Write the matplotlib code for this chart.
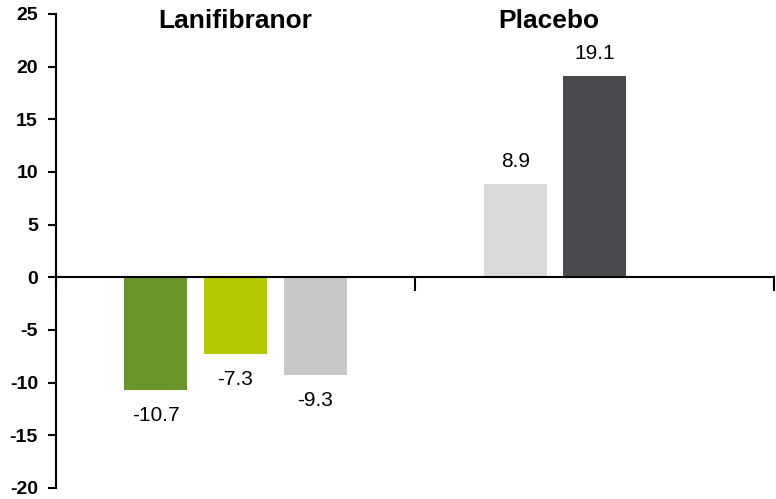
import matplotlib.pyplot as plt

plt.rcParams['font.family'] = ['Liberation Sans', 'DejaVu Sans']

# data
groups = ['Lanifibranor', 'Placebo']
lani_values = [-10.7, -7.3, -9.3]
placebo_values = [8.9, 19.1]
lani_colors = ['#6a952a', '#b3c800', '#c8c8c8']
placebo_colors = ['#dadada', '#4a494e']
yticks = [-20, -15, -10, -5, 0, 5, 10, 15, 20, 25]

fig = plt.figure(figsize=(7.76, 4.99), dpi=100)
ax = fig.add_axes([56 / 776, 11 / 499, 718 / 776, 474 / 499])

# bar positions inside each group (group 0 spans 0..1, group 1 spans 1..2)
lani_x = [0.277, 0.5, 0.723]
placebo_x = [1.28, 1.50]
width = 0.175

ax.bar(lani_x, lani_values, width=width, color=lani_colors)
ax.bar(placebo_x, placebo_values, width=width, color=placebo_colors)

for x, v in zip(lani_x + placebo_x, lani_values + placebo_values):
    off = -18 if v < 0 else 16
    ax.annotate(f'{v}', (x, v), xytext=(0, off), textcoords='offset points',
                ha='center', va='center', fontsize=15)

# group titles
ax.text(0.5, 24.3, groups[0], ha='center', va='center', fontsize=19, fontweight='bold')
ax.text(1.372, 24.3, groups[1], ha='center', va='center', fontsize=19, fontweight='bold')

ax.set_xlim(0, 2)
ax.set_ylim(-20, 25)
ax.set_yticks(yticks)
ax.set_yticklabels([str(t) for t in yticks], fontsize=14, fontweight='bold')
ax.set_xticks([0, 1, 2])
ax.set_xticklabels([])
ax.tick_params(axis='x', direction='out', length=10, width=1.5)
ax.tick_params(axis='y', direction='out', length=6, width=1.5, pad=7)

ax.spines['top'].set_visible(False)
ax.spines['right'].set_visible(False)
ax.spines['bottom'].set_position(('data', 0))
ax.spines['bottom'].set_linewidth(1.5)
ax.spines['left'].set_linewidth(1.5)
ax.spines['bottom'].set_zorder(3)

plt.savefig('out.png', dpi=100)
